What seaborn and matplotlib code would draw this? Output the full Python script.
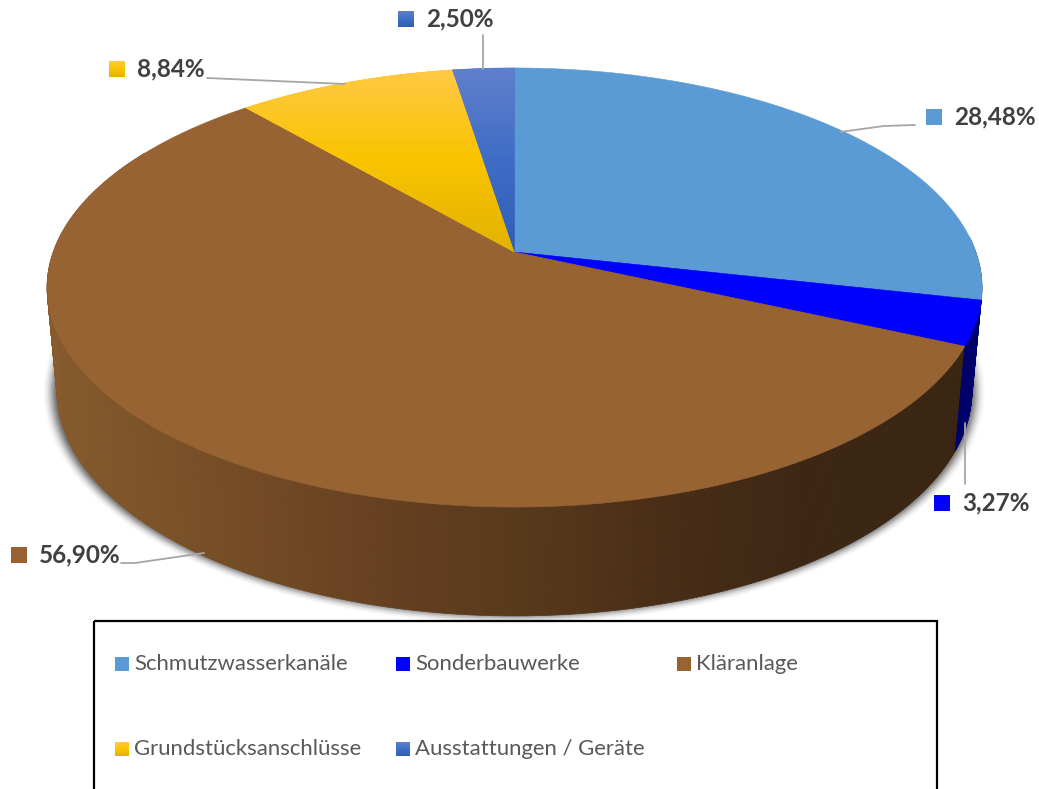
import numpy as np
import seaborn as sns
import matplotlib
matplotlib.use("Agg")
import matplotlib.pyplot as plt
from matplotlib.patches import Ellipse, Polygon, Rectangle
from matplotlib.colors import LinearSegmentedColormap, to_rgb

# ---- data ----
categories = ["Schmutzwasserkanäle", "Sonderbauwerke", "Kläranlage",
              "Grundstücksanschlüsse", "Ausstattungen / Geräte"]
values = [28.48, 3.27, 56.90, 8.84, 2.50]

# ---- style ----
flat_colors = ["#5b9bd5", "#0000ff", "#976332", "#fbc40a", "#4472c4"]
gradients = {3: ["#ffc947", "#fac400", "#e2b200"],
             4: ["#6080cc", "#3f6dc6", "#2e5fb4"]}
wall_flat = {0: "#2d5a80", 1: "#00006a"}
wall_stops_x = [50, 250, 400, 514, 650, 800, 960]
wall_stops_c = ["#875c2d", "#744b25", "#643f20", "#583a1c", "#4a2e17", "#3d2714", "#3a2513"]

sns.set_theme(style="white")
plt.rcParams["font.family"] = ["Lato", "DejaVu Sans"]

W, H = 1039, 789
fig = plt.figure(figsize=(W / 100, H / 100), dpi=100)
ax = fig.add_axes([0, 0, 1, 1])
ax.set_axis_off()

# perspective projection of the pie disc (clockwise from 12 o'clock)
K, A, B = 0.1617, 461.3, 213.8
CX, TOP_Y, BOT_Y = 514.5, 252.0, 354.0
BOT_SX, BOT_SY = 0.9786, 1.027


def top_pt(theta):
    u, v = np.sin(theta), np.cos(theta)
    w = 1 + K * v
    return CX + A * u / w, TOP_Y - B * v / w


def bot_pt(theta):
    u, v = np.sin(theta), np.cos(theta)
    w = 1 + K * v
    return CX + BOT_SX * A * u / w, BOT_Y - BOT_SY * B * v / w


edges = np.concatenate([[0], np.cumsum(values)]) / sum(values) * 2 * np.pi

# soft shadow under the wall: faint outside, darker towards the wall
n_sh = 18
for i in range(n_sh):
    g = i / (n_sh - 1)
    ax.add_patch(Ellipse((514, 392), 2 * (471 - 14 * g), 2 * (232 - 11 * g),
                         fc="#404040", ec="none", alpha=0.015 + 0.16 * g ** 1.5, zorder=3))

# side wall
th = np.linspace(edges[0] + 1.5, np.radians(300), 420)
wall_rgb = np.array([to_rgb(c) for c in wall_stops_c])
for t0, t1 in zip(th[:-1], th[1:]):
    tm = (t0 + t1) / 2
    if edges[2] <= tm:
        xm = bot_pt(tm)[0]
        col = [np.interp(xm, wall_stops_x, wall_rgb[:, k]) for k in range(3)]
    else:
        col = wall_flat[1] if tm >= edges[1] else wall_flat[0]
    pts = [top_pt(t0), top_pt(t1), bot_pt(t1), bot_pt(t0)]
    ax.add_patch(Polygon(pts, closed=True, fc=col, ec=col, lw=0.5, zorder=4))
# blue wall end
t = np.linspace(edges[1], edges[2], 40)
pts = [top_pt(a) for a in t] + [bot_pt(a) for a in t[::-1]]
ax.add_patch(Polygon(pts, closed=True, fc=wall_flat[1], ec=wall_flat[1], lw=0.5, zorder=5))


# top face
def gradient_image(stops, extent, clip=None, zorder=6):
    cmap = LinearSegmentedColormap.from_list("g", stops)
    im = ax.imshow(np.linspace(0, 1, 256)[:, None], cmap=cmap, extent=extent,
                   aspect="auto", origin="upper", zorder=zorder, interpolation="bilinear")
    if clip is not None:
        im.set_clip_path(clip)


for i, col in enumerate(flat_colors):
    t = np.linspace(edges[i], edges[i + 1], 240)
    pts = [(CX, TOP_Y)] + [top_pt(a) for a in t]
    poly = Polygon(pts, closed=True, fc=col, ec=col, lw=0.4, zorder=6,
                   transform=ax.transData)
    ax.add_patch(poly)
    if i in gradients:
        gradient_image(gradients[i], (40, 990, TOP_Y, 66), clip=poly, zorder=7)

# callouts (data label position, marker, leader line)
label_x = [954, 962, 39, 137, 426]
label_y = [117, 503, 555, 69, 19]
mark_x = [926, 934, 11, 109, 398]
leaders = [[(915, 125), (884, 126), (840, 132)],
           [(965, 484), (965, 423)],
           [(121, 563), (135, 563), (204, 553)],
           [(207, 78), (345, 84)],
           [(483, 35), (483, 69)]]
for i, v in enumerate(values):
    ax.text(label_x[i], label_y[i], f"{v:.2f}".replace(".", ",") + "%", fontsize=17.5,
            fontweight="bold", color="#404040", va="center", ha="left", zorder=10)
    y0 = label_y[i] - 8
    if i in gradients:
        gradient_image(gradients[i], (mark_x[i], mark_x[i] + 16, y0 + 16, y0), zorder=10)
    else:
        ax.add_patch(Rectangle((mark_x[i], y0), 16, 16, fc=flat_colors[i], ec="none", zorder=10))
    xs, ys = zip(*leaders[i])
    ax.plot(xs, ys, color="#a6a6a6", lw=1.3, zorder=9)

# legend
ax.add_patch(Rectangle((94, 621), 843, 190, fc="none", ec="black", lw=1.6, zorder=2))
leg_x = [115, 396, 677, 115, 396]
leg_y = [664, 664, 664, 749, 749]
for i, name in enumerate(categories):
    y0 = leg_y[i] - 7
    if i in gradients:
        gradient_image(gradients[i], (leg_x[i], leg_x[i] + 14, y0 + 14, y0), zorder=10)
    else:
        ax.add_patch(Rectangle((leg_x[i], y0), 14, 14, fc=flat_colors[i], ec="none", zorder=10))
    ax.text(leg_x[i] + 19, leg_y[i], name, fontsize=15.9, color="#595959",
            va="center", ha="left", zorder=10)

ax.set_xlim(0, W)
ax.set_ylim(H, 0)
fig.savefig("out.png", dpi=100, facecolor="white")
